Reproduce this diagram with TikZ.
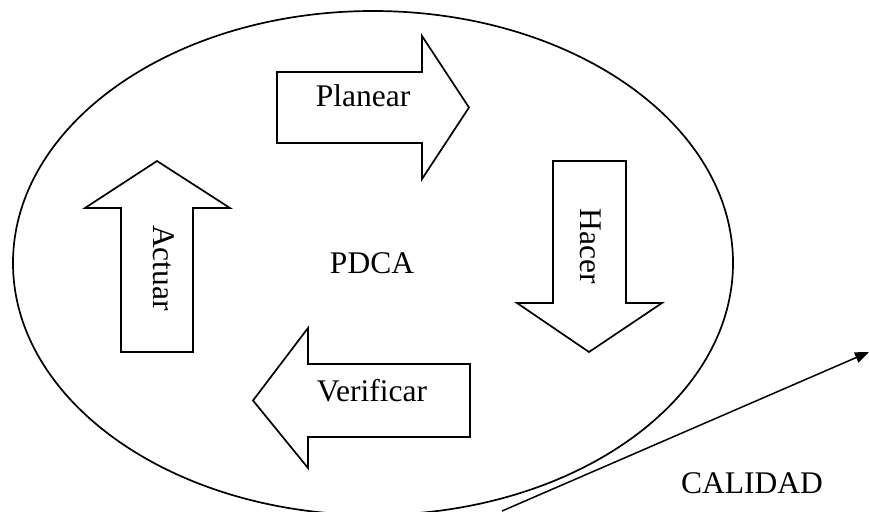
\documentclass[tikz,border=0pt]{standalone}
\usepackage{fontspec}
\setmainfont{Liberation Serif}
\usetikzlibrary{arrows.meta}
\begin{document}
\begin{tikzpicture}[x=1pt,y=-1pt,
  shapeline/.style={draw=black,line width=1.7pt,line join=miter},
  lbl/.style={inner sep=0pt,font=\fontsize{31.5}{36}\selectfont},
  conn/.style={draw=black,line width=1.5pt,-{Triangle[length=14pt,width=11pt]}}]
\useasboundingbox (0,0) rectangle (869,511);
\fill[white] (0,0) rectangle (869,511);
% ellipse
\draw[shapeline] (373,263) ellipse [x radius=360, y radius=252];
% Planear arrow (right)
\draw[shapeline] (277,72) -- (422,72) -- (422,36) -- (469,107.5) -- (422,179) -- (422,143) -- (277,143) -- cycle;
% Hacer arrow (down)
\draw[shapeline] (553,161) -- (626,161) -- (626,303) -- (662,303) -- (589,352) -- (517,303) -- (553,303) -- cycle;
% Verificar arrow (left)
\draw[shapeline] (470,364) -- (308,364) -- (308,328) -- (253,400.5) -- (308,468) -- (308,437) -- (470,437) -- cycle;
% Actuar arrow (up)
\draw[shapeline] (121,352) -- (121,208) -- (85,208) -- (157,161) -- (230,208) -- (193,208) -- (193,352) -- cycle;
% labels
\node[lbl] (planear) at (363,96) {Planear};
\node[lbl,rotate=-90] (hacer) at (591,246) {Hacer};
\node[lbl] (verificar) at (372,391) {Verificar};
\node[lbl,rotate=-90] (actuar) at (164,268) {Actuar};
\node[lbl] (pdca) at (372,263) {PDCA};
\node[lbl] (calidad) at (752,483) {CALIDAD};
% quality line
\coordinate (q1) at (502,511);
\coordinate (q2) at (869,352);
\draw[conn] (q1) -- (q2);
\end{tikzpicture}
\end{document}
